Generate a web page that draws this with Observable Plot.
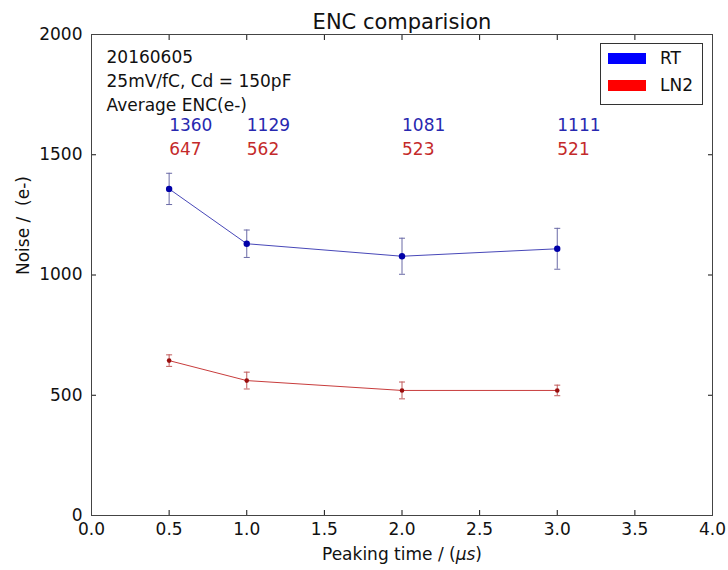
<!DOCTYPE html>
<html>
<head>
<meta charset="utf-8">
<script src="https://cdn.jsdelivr.net/npm/d3@7"></script>
<script src="https://cdn.jsdelivr.net/npm/@observablehq/plot@0.6"></script>
<style>
  body { margin: 0; background: #fff; font-family: "DejaVu Sans", sans-serif; }
  #wrap { position: relative; width: 728px; height: 570px; }
  #legend { position: absolute; left: 600px; top: 43px; width: 101px; height: 60px; border: 1px solid #333; background: #fff; }
  .sw { position: absolute; left: 7px; width: 38px; height: 11px; }
  .lab { position: absolute; left: 59px; font-size: 17px; color: #111; line-height: 17px; }
</style>
</head>
<body>
<div id="wrap">
  <div id="chart"></div>
  <div id="legend">
    <div class="sw" style="top:9px;background:#0000ff"></div><div class="lab" style="top:6px">RT</div>
    <div class="sw" style="top:36px;background:#ff0000"></div><div class="lab" style="top:33px">LN2</div>
  </div>
</div>
<script>
const peakingTime = [0.5, 1.0, 2.0, 3.0];
const rtNoise = [1358, 1130, 1078, 1109];
const rtErr = [65, 57, 75, 85];
const ln2Noise = [644, 561, 520, 520];
const ln2Err = [24, 35, 35, 22];
const rtLabels = ["1360", "1129", "1081", "1111"];
const ln2Labels = ["647", "562", "523", "521"];
const xTicks = [0, 0.5, 1.0, 1.5, 2.0, 2.5, 3.0, 3.5, 4.0];
const yTicks = [0, 500, 1000, 1500, 2000];
const infoLines = "20160605\n25mV/fC, Cd = 150pF\nAverage ENC(e-)";

const rt = peakingTime.map((x, i) => ({x, y: rtNoise[i], e: rtErr[i], label: rtLabels[i]}));
const ln2 = peakingTime.map((x, i) => ({x, y: ln2Noise[i], e: ln2Err[i], label: ln2Labels[i]}));

const cap = { draw(ctx, size) { const w = Math.sqrt(size / Math.PI); ctx.moveTo(-w, 0); ctx.lineTo(w, 0); } };

const FS = 17;
function series(data, c) {
  return [
    Plot.ruleX(data, {x: "x", y1: d => d.y - d.e, y2: d => d.y + d.e, stroke: c.err, strokeWidth: 1}),
    Plot.dot(data, {x: "x", y: d => d.y - d.e, symbol: cap, r: 3, stroke: c.err, strokeWidth: 1}),
    Plot.dot(data, {x: "x", y: d => d.y + d.e, symbol: cap, r: 3, stroke: c.err, strokeWidth: 1}),
    Plot.line(data, {x: "x", y: "y", stroke: c.line, strokeWidth: 1}),
    Plot.dot(data, {x: "x", y: "y", r: c.r, fill: c.dot, stroke: "none"})
  ];
}

const chart = Plot.plot({
  width: 728,
  height: 570,
  marginLeft: 91,
  marginRight: 16,
  marginTop: 34,
  marginBottom: 55,
  style: {fontFamily: "DejaVu Sans", fontSize: FS + "px", color: "#111", background: "#fff"},
  x: {domain: [0, 4], ticks: xTicks, tickFormat: d3.format(".1f")},
  y: {domain: [0, 2000], ticks: yTicks, tickFormat: d3.format("d")},
  marks: [
    Plot.axisX({anchor: "bottom", ticks: xTicks, tickSize: -5, tickPadding: 12, tickFormat: d3.format(".1f"), label: null, fontSize: FS}),
    Plot.axisX({anchor: "top", ticks: xTicks, tickSize: -5, tickFormat: () => "", label: null}),
    Plot.axisY({anchor: "left", ticks: yTicks, tickSize: -5, tickPadding: 14, tickFormat: d3.format("d"), label: null, fontSize: FS}),
    Plot.axisY({anchor: "right", ticks: yTicks, tickSize: -5, tickFormat: () => "", label: null}),
    Plot.frame({stroke: "#444", strokeWidth: 1}),
    ...series(rt, {line: "#4747b8", err: "#6a6aa6", dot: "#0000a8", r: 3.2}),
    ...series(ln2, {line: "#c83c3c", err: "#c05a5a", dot: "#9a0e0e", r: 2.3}),
    Plot.text(rt, {x: "x", y: 1600, text: "label", textAnchor: "start", lineAnchor: "bottom", fill: "#2828b0", fontSize: FS}),
    Plot.text(ln2, {x: "x", y: 1500, text: "label", textAnchor: "start", lineAnchor: "bottom", fill: "#c42a2a", fontSize: FS}),
    Plot.text([infoLines], {frameAnchor: "top-left", text: d => d, textAnchor: "start", lineAnchor: "top", dx: 15, dy: 12, lineHeight: 1.4, fontSize: FS, fill: "#111"}),
    Plot.text(["ENC comparision"], {frameAnchor: "top", text: d => d, lineAnchor: "bottom", dy: -6, fontSize: 21, fill: "#111"}),
    Plot.text(["Peaking time / (μs)"], {frameAnchor: "bottom", text: d => d, lineAnchor: "bottom", dy: 44, fontSize: FS, fill: "#111"}),
    Plot.text(["Noise /  (e-)"], {frameAnchor: "left", text: d => d, rotate: -90, lineAnchor: "bottom", dx: -63, fontSize: FS, fill: "#111"})
  ]
});
d3.select(chart).selectAll("text").each(function() {
  const t = this.textContent;
  if (t === "Peaking time / (μs)") {
    const el = d3.select(this);
    el.text(null);
    el.append("tspan").text("Peaking time / (");
    el.append("tspan").attr("font-style", "italic").text("μs");
    el.append("tspan").text(")");
  }
});
document.getElementById("chart").appendChild(chart);
</script>
</body>
</html>
